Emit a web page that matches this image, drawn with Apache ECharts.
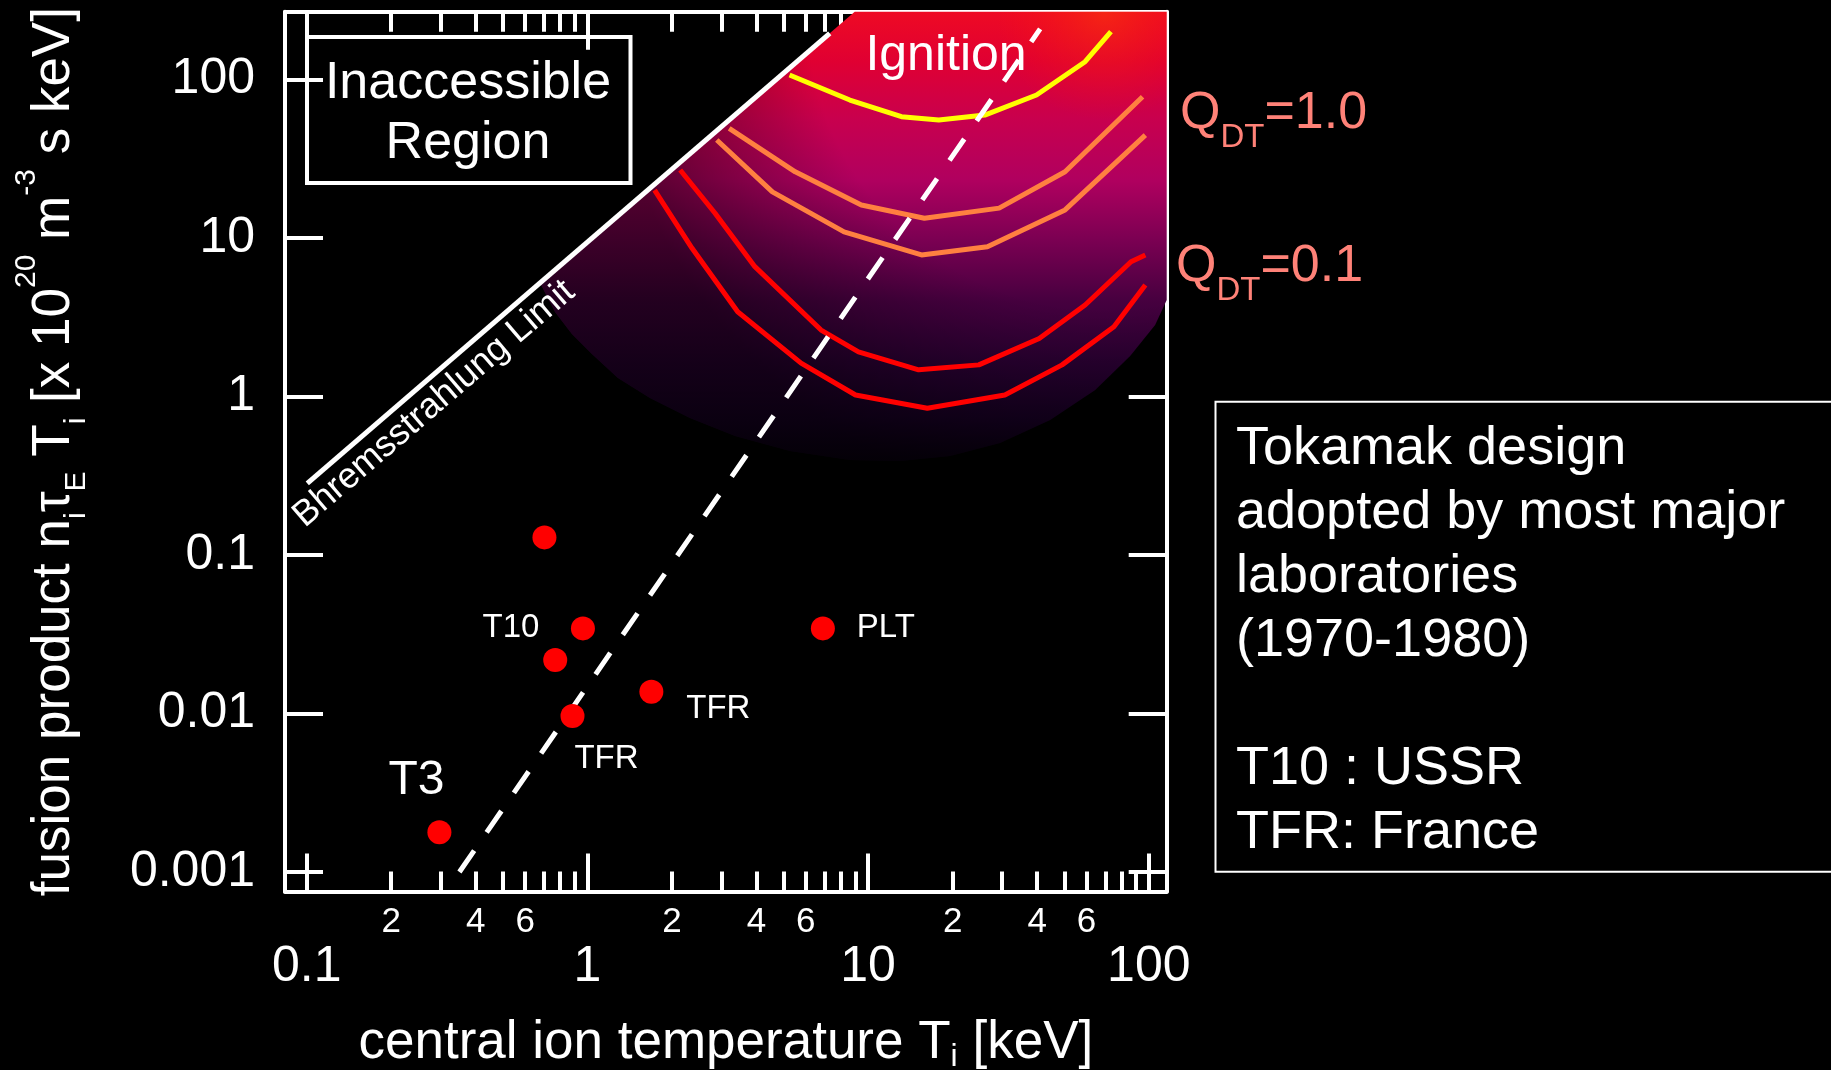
<!DOCTYPE html>
<html><head><meta charset="utf-8">
<script src="https://cdn.jsdelivr.net/npm/echarts@6/dist/echarts.min.js"></script>
<style>html,body{margin:0;padding:0;background:#000;}#c{width:1831px;height:1070px;}</style>
</head><body><div id="c"></div>
<script>
// ---- tick values / labels ----
const xMajorTicks = [0.1, 1, 10, 100];
const xMajorLabels = ['0.1', '1', '10', '100'];
const xMinorTicks = [0.2,0.3,0.4,0.5,0.6,0.7,0.8,0.9, 2,3,4,5,6,7,8,9, 20,30,40,50,60,70,80,90];
const xMinorLabelTicks = [0.2,0.4,0.6, 2,4,6, 20,40,60];
const xMinorLabels = ['2','4','6','2','4','6','2','4','6'];
const yTicks = [0.001, 0.01, 0.1, 1, 10, 100];
const yLabels = ['0.001', '0.01', '0.1', '1', '10', '100'];

// ---- curves (T in keV, fusion product) ----
const ignitionT = [5.25, 8.61, 13.15, 17.86, 26.03, 39.8, 59.3, 73.3];
const ignitionV = [106.4, 74.0, 58.1, 55.4, 59.5, 79.6, 129.1, 199.6];
const q1aT = [3.20, 5.50, 9.46, 15.87, 29.3, 50.3, 95.0];
const q1aV = [49.1, 26.1, 16.1, 13.3, 15.4, 26.1, 77.7];
const q1bT = [2.89, 4.56, 8.21, 15.5, 26.6, 50.3, 97.2];
const q1bV = [41.4, 19.5, 10.9, 7.80, 8.79, 15.0, 44.5];
const q01aT = [2.14, 2.85, 3.95, 6.80, 9.24, 15.13, 24.8, 40.7, 59.3, 86.4, 97.2];
const q01aV = [26.8, 14.3, 6.58, 2.62, 1.91, 1.47, 1.58, 2.32, 3.77, 7.07, 7.80];
const q01bT = [1.735, 2.36, 3.43, 5.77, 9.02, 16.25, 30.7, 49.1, 75.1, 97.2];
const q01bV = [20.0, 8.59, 3.42, 1.62, 1.02, 0.841, 1.02, 1.58, 2.75, 5.04];
const bremsT = [0.1005, 7.30];
const bremsV = [0.283, 195];
const ignLineT = [0.35, 41];
const ignLineV = [0.001, 208];
// shaded reactor region boundary
const regionT = [8.96, 0.678, 0.767, 0.881, 1.038, 1.285, 1.671, 2.32, 3.36, 5.27, 8.62, 13.0, 19.58, 29.5, 44.5, 64.4, 85.8, 105.3, 115.8, 115.8];
const regionV = [267, 5.2, 3.41, 2.47, 1.85, 1.306, 0.977, 0.731, 0.5625, 0.452, 0.397, 0.391, 0.421, 0.508, 0.710, 1.097, 1.80, 2.82, 4.05, 267];
// experiments
const expNames = ['', 'T10', '', 'PLT', 'TFR', 'TFR', 'T3'];
const expT = [0.703, 0.964, 0.768, 6.90, 1.69, 0.885, 0.297];
const expV = [0.129, 0.0344, 0.0217, 0.0344, 0.0137, 0.00964, 0.00178];
// axis ranges
const xMin = 0.0837, xMax = 115.8, yMin = 0.000753, yMax = 267;

const FONT = '"Liberation Sans", Arial, Helvetica, sans-serif';
const W = '#ffffff';
const QC = '#ff8278';
const pairs = (a, b) => a.map((v, i) => [v, b[i]]);
const lookup = (v, ticks, labels) => {
  for (let i = 0; i < ticks.length; i++) {
    if (Math.abs(Math.log10(v) - Math.log10(ticks[i])) < 1e-6) return labels[i];
  }
  return '';
};

function xAx(pos, major, showLine, labelCfg) {
  return {
    type: 'log', logBase: 10, min: xMin, max: xMax, position: pos, gridIndex: 0,
    axisLine: { show: showLine, onZero: false, lineStyle: { color: W, width: 4 } },
    axisTick: { show: true, inside: true, length: major ? 38 : 20,
      lineStyle: { color: W, width: 4 }, customValues: major ? xMajorTicks : xMinorTicks },
    axisLabel: labelCfg || { show: false },
    splitLine: { show: false }, minorTick: { show: false }, axisPointer: { show: false }
  };
}

const expLabelOffsets = [[0,0],[-72,0],[0,0],[63,0],[67,17],[34,43],[-23,-52]];

function regionItem(fill) {
  return function (params, api) {
    const pts = regionT.map((t, i) => api.coord([t, regionV[i]]));
    return { type: 'polygon', shape: { points: pts }, style: { fill: fill } };
  };
}
const baseFill = {
  type: 'linear', x: 0, y: 0, x2: 0, y2: 1, global: false,
  colorStops: [
    { offset: 0.0, color: '#ee0a24' },
    { offset: 0.11, color: '#e00032' },
    { offset: 0.24, color: '#c8004e' },
    { offset: 0.375, color: '#b0005f' },
    { offset: 0.51, color: '#7a0052' },
    { offset: 0.645, color: '#46003f' },
    { offset: 0.78, color: '#2a0032' },
    { offset: 0.91, color: '#160022' },
    { offset: 1.0, color: '#08000e' }
  ]
};
const glowFill = {
  type: 'radial', x: 0.9, y: 0.0, r: 1.1, global: false,
  colorStops: [
    { offset: 0.0, color: 'rgba(255,70,0,0.45)' },
    { offset: 0.22, color: 'rgba(255,20,0,0)' },
    { offset: 0.6, color: 'rgba(0,0,0,0)' },
    { offset: 1.0, color: 'rgba(0,0,0,0.5)' }
  ]
};

const chart = echarts.init(document.getElementById('c'), null, { renderer: 'canvas' });
const option = {
  backgroundColor: '#000',
  animation: false,
  textStyle: { fontFamily: FONT },
  grid: { left: 285, right: 664.3, top: 11.7, bottom: 178.5, containLabel: false, outerBoundsMode: 'none' },
  xAxis: [
    Object.assign(xAx('bottom', true, true, {
      show: true, customValues: xMajorTicks, color: W, fontSize: 50, fontFamily: FONT, margin: 50.5,
      formatter: v => lookup(v, xMajorTicks, xMajorLabels)
    }), {
      name: '{t|central ion temperature T}{s|i}{t| [keV]}',
      nameLocation: 'middle', nameGap: 120,
      nameTextStyle: { color: W, fontFamily: FONT, fontSize: 53,
        rich: {
          t: { fontSize: 53, fontFamily: FONT, color: W, lineHeight: 64 },
          s: { fontSize: 32, fontFamily: FONT, color: W, lineHeight: 30, verticalAlign: 'top', padding: [30, 0, 0, 0] }
        } }
    }),
    xAx('bottom', false, false, {
      show: true, customValues: xMinorLabelTicks, color: W, fontSize: 35, fontFamily: FONT, margin: 13,
      formatter: v => lookup(v, xMinorLabelTicks, xMinorLabels)
    }),
    xAx('top', true, true, null),
    xAx('top', false, false, null)
  ],
  yAxis: [
    {
      type: 'log', logBase: 10, min: yMin, max: yMax, position: 'left',
      axisLine: { show: true, onZero: false, lineStyle: { color: W, width: 4 } },
      axisTick: { show: true, inside: true, length: 38, lineStyle: { color: W, width: 4 }, customValues: yTicks },
      axisLabel: { show: true, customValues: yTicks, color: W, fontSize: 50, fontFamily: FONT, margin: 30,
        formatter: v => lookup(v, yTicks, yLabels) },
      splitLine: { show: false }, axisPointer: { show: false },
      name: '{t|fusion product n}{s|i}{t|τ}{s|E}{t| T}{s|i}{t| [x 10}{p|20}{t| m}{p|-3}{t| s keV]}',
      nameLocation: 'middle', nameRotate: 90, nameGap: 189,
      nameTextStyle: { color: W, fontFamily: FONT, fontSize: 53,
        rich: {
          t: { fontSize: 53, fontFamily: FONT, color: W, lineHeight: 84 },
          s: { fontSize: 30, fontFamily: FONT, color: W, lineHeight: 28, verticalAlign: 'top', padding: [50, 0, 0, 0] },
          p: { fontSize: 30, fontFamily: FONT, color: W, lineHeight: 28, verticalAlign: 'top', padding: [0, 0, 0, 0] }
        } }
    },
    {
      type: 'log', logBase: 10, min: yMin, max: yMax, position: 'right',
      axisLine: { show: true, onZero: false, lineStyle: { color: W, width: 4 } },
      axisTick: { show: true, inside: true, length: 38, lineStyle: { color: W, width: 4 }, customValues: yTicks },
      axisLabel: { show: false }, splitLine: { show: false }, axisPointer: { show: false }
    }
  ],
  series: [
    { type: 'custom', xAxisIndex: 0, yAxisIndex: 0, z: 1, silent: true, data: [[1, 1]], renderItem: regionItem(baseFill) },
    { type: 'custom', xAxisIndex: 0, yAxisIndex: 0, z: 1, silent: true, data: [[1, 1]], renderItem: regionItem(glowFill) },
    { type: 'line', z: 2, data: pairs(q01bT, q01bV), symbol: 'none', lineStyle: { color: '#ff0000', width: 5 } },
    { type: 'line', z: 2, data: pairs(q01aT, q01aV), symbol: 'none', lineStyle: { color: '#ff0000', width: 5 } },
    { type: 'line', z: 2, data: pairs(q1bT, q1bV), symbol: 'none', lineStyle: { color: '#ff8040', width: 5 } },
    { type: 'line', z: 2, data: pairs(q1aT, q1aV), symbol: 'none', lineStyle: { color: '#ff8040', width: 5 } },
    { type: 'line', z: 2, data: pairs(ignitionT, ignitionV), symbol: 'none', lineStyle: { color: '#ffff00', width: 5 } },
    { type: 'line', z: 3, data: pairs(bremsT, bremsV), symbol: 'none', lineStyle: { color: W, width: 5 } },
    { type: 'line', z: 4, data: pairs(ignLineT, ignLineV), symbol: 'none', lineStyle: { color: W, width: 5, type: [26, 22] } },
    {
      type: 'scatter', z: 5, symbol: 'circle', symbolSize: 24, itemStyle: { color: '#ff0000', opacity: 1 },
      data: expT.map((t, i) => ({
        value: [t, expV[i]], name: expNames[i],
        label: {
          show: expNames[i] !== '', position: 'inside', offset: expLabelOffsets[i],
          formatter: '{b}', color: W, textBorderWidth: 0, textBorderColor: 'transparent',
          fontFamily: FONT, fontSize: expNames[i] === 'T3' ? 48 : 33
        }
      }))
    }
  ],
  graphic: [
    { type: 'rect', z: 6, shape: { x: 307, y: 37, width: 323.5, height: 146 },
      style: { fill: 'none', stroke: W, lineWidth: 4 } },
    { type: 'text', z: 6, x: 468, y: 54,
      style: { text: 'Inaccessible\nRegion', fill: W, font: '52px ' + FONT, lineHeight: 60,
        align: 'center', textAlign: 'center', verticalAlign: 'top', textVerticalAlign: 'top' } },
    { type: 'text', z: 3.5, x: 946, y: 56,
      style: { text: 'Ignition', fill: W, font: '50px ' + FONT,
        align: 'center', textAlign: 'center', verticalAlign: 'middle', textVerticalAlign: 'middle' } },
    { type: 'text', z: 6, x: 434, y: 404, rotation: 0.710,
      style: { text: 'Bhremsstrahlung Limit', fill: W, font: '36px ' + FONT,
        align: 'center', textAlign: 'center', verticalAlign: 'middle', textVerticalAlign: 'middle' } },
    { type: 'text', z: 6, x: 1180, y: 113.5,
      style: { text: '{q|Q}{s|DT}{q|=1.0}', fill: QC,
        align: 'left', textAlign: 'left', verticalAlign: 'middle', textVerticalAlign: 'middle',
        rich: {
          q: { fontSize: 52, fontFamily: FONT, fill: QC, color: QC, lineHeight: 80 },
          s: { fontSize: 33, fontFamily: FONT, fill: QC, color: QC, lineHeight: 30, verticalAlign: 'top', padding: [48, 0, 0, 0] }
        } } },
    { type: 'text', z: 6, x: 1176, y: 266.5,
      style: { text: '{q|Q}{s|DT}{q|=0.1}', fill: QC,
        align: 'left', textAlign: 'left', verticalAlign: 'middle', textVerticalAlign: 'middle',
        rich: {
          q: { fontSize: 52, fontFamily: FONT, fill: QC, color: QC, lineHeight: 80 },
          s: { fontSize: 33, fontFamily: FONT, fill: QC, color: QC, lineHeight: 30, verticalAlign: 'top', padding: [48, 0, 0, 0] }
        } } },
    { type: 'rect', z: 6, shape: { x: 1215.5, y: 401.7, width: 640, height: 470 },
      style: { fill: 'none', stroke: W, lineWidth: 2 } },
    { type: 'text', z: 6, x: 1236, y: 417,
      style: { text: 'Tokamak design\nadopted by most major\nlaboratories\n(1970-1980)\n\nT10 : USSR\nTFR: France',
        fill: W, font: '54px ' + FONT, lineHeight: 64,
        align: 'left', textAlign: 'left', verticalAlign: 'top', textVerticalAlign: 'top' } }
  ]
};
chart.setOption(option);
</script>
</body></html>
